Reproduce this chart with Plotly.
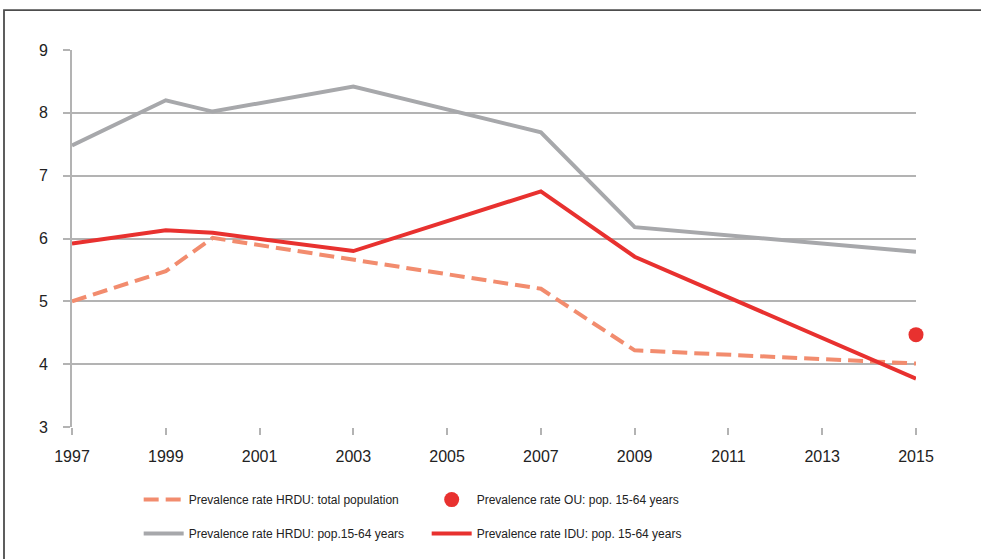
import plotly.graph_objects as go

years_total = [1997, 1999, 2000, 2007, 2009, 2015]
hrdu_total = [5.00, 5.48, 6.01, 5.20, 4.22, 4.01]

years_hrdu = [1997, 1999, 2000, 2003, 2007, 2009, 2015]
hrdu_1564 = [7.48, 8.20, 8.02, 8.42, 7.69, 6.18, 5.79]

years_idu = [1997, 1999, 2000, 2003, 2007, 2009, 2015]
idu_1564 = [5.92, 6.13, 6.09, 5.80, 6.75, 5.71, 3.77]

years_ou = [2015]
ou_1564 = [4.47]

tick_years = [1997, 1999, 2001, 2003, 2005, 2007, 2009, 2011, 2013, 2015]
y_ticks = [3, 4, 5, 6, 7, 8, 9]

GRID = "#b3b3b3"
FONT = "Liberation Sans, Arial, sans-serif"
TXT = "#222222"

fig = go.Figure()
fig.add_trace(go.Scatter(x=years_total, y=hrdu_total, mode="lines", cliponaxis=False,
                         name="Prevalence rate HRDU: total population", legend="legend",
                         line=dict(color="#f28c6e", width=4, dash="15px,7px")))
fig.add_trace(go.Scatter(x=years_ou, y=ou_1564, mode="markers", cliponaxis=False,
                         name="Prevalence rate OU: pop. 15-64 years", legend="legend",
                         marker=dict(color="#e8312f", size=15)))
fig.add_trace(go.Scatter(x=years_hrdu, y=hrdu_1564, mode="lines", cliponaxis=False,
                         name="Prevalence rate HRDU: pop.15-64 years", legend="legend2",
                         line=dict(color="#a7a8ab", width=4)))
fig.add_trace(go.Scatter(x=years_idu, y=idu_1564, mode="lines", cliponaxis=False,
                         name="Prevalence rate IDU: pop. 15-64 years", legend="legend2",
                         line=dict(color="#e8312f", width=4)))

leg_common = dict(orientation="h", xanchor="left", yanchor="top",
                  entrywidth=233, entrywidthmode="pixels",
                  font=dict(size=12, family=FONT, color=TXT), itemwidth=40,
                  bgcolor="rgba(0,0,0,0)")

fig.update_layout(
    width=981, height=559,
    margin=dict(l=72, r=65, t=50, b=131),
    paper_bgcolor="white", plot_bgcolor="white",
    font=dict(family=FONT, color=TXT),
    showlegend=True,
    legend=dict(x=0.079, y=-0.151, **leg_common),
    legend2=dict(x=0.079, y=-0.241, **leg_common),
    xaxis=dict(range=[1997, 2015], tickvals=tick_years, ticks="outside", ticklen=7,
               tickcolor=GRID, tickwidth=1.5, showgrid=False, zeroline=False,
               showline=False, ticklabelstandoff=8,
               tickfont=dict(size=16, family=FONT, color=TXT)),
    yaxis=dict(range=[3, 9], tickvals=y_ticks, ticks="outside", ticklen=7,
               tickcolor=GRID, tickwidth=1.5, showgrid=True, gridcolor=GRID, gridwidth=2,
               zeroline=False, showline=True, linecolor=GRID, linewidth=2,
               ticklabelstandoff=12,
               tickfont=dict(size=16, family=FONT, color=TXT)),
)

# outer frame (top and left edges visible)
fig.add_shape(type="rect", xref="paper", yref="paper",
              x0=(4 - 72) / 844, x1=1.2, y0=-0.5, y1=(428 - 10) / 378,
              line=dict(color="#4d4d4d", width=1.8), fillcolor="rgba(0,0,0,0)", layer="below")

fig.write_html("out.html", config={"displayModeBar": False},
               post_script="document.body.style.margin='0';")
